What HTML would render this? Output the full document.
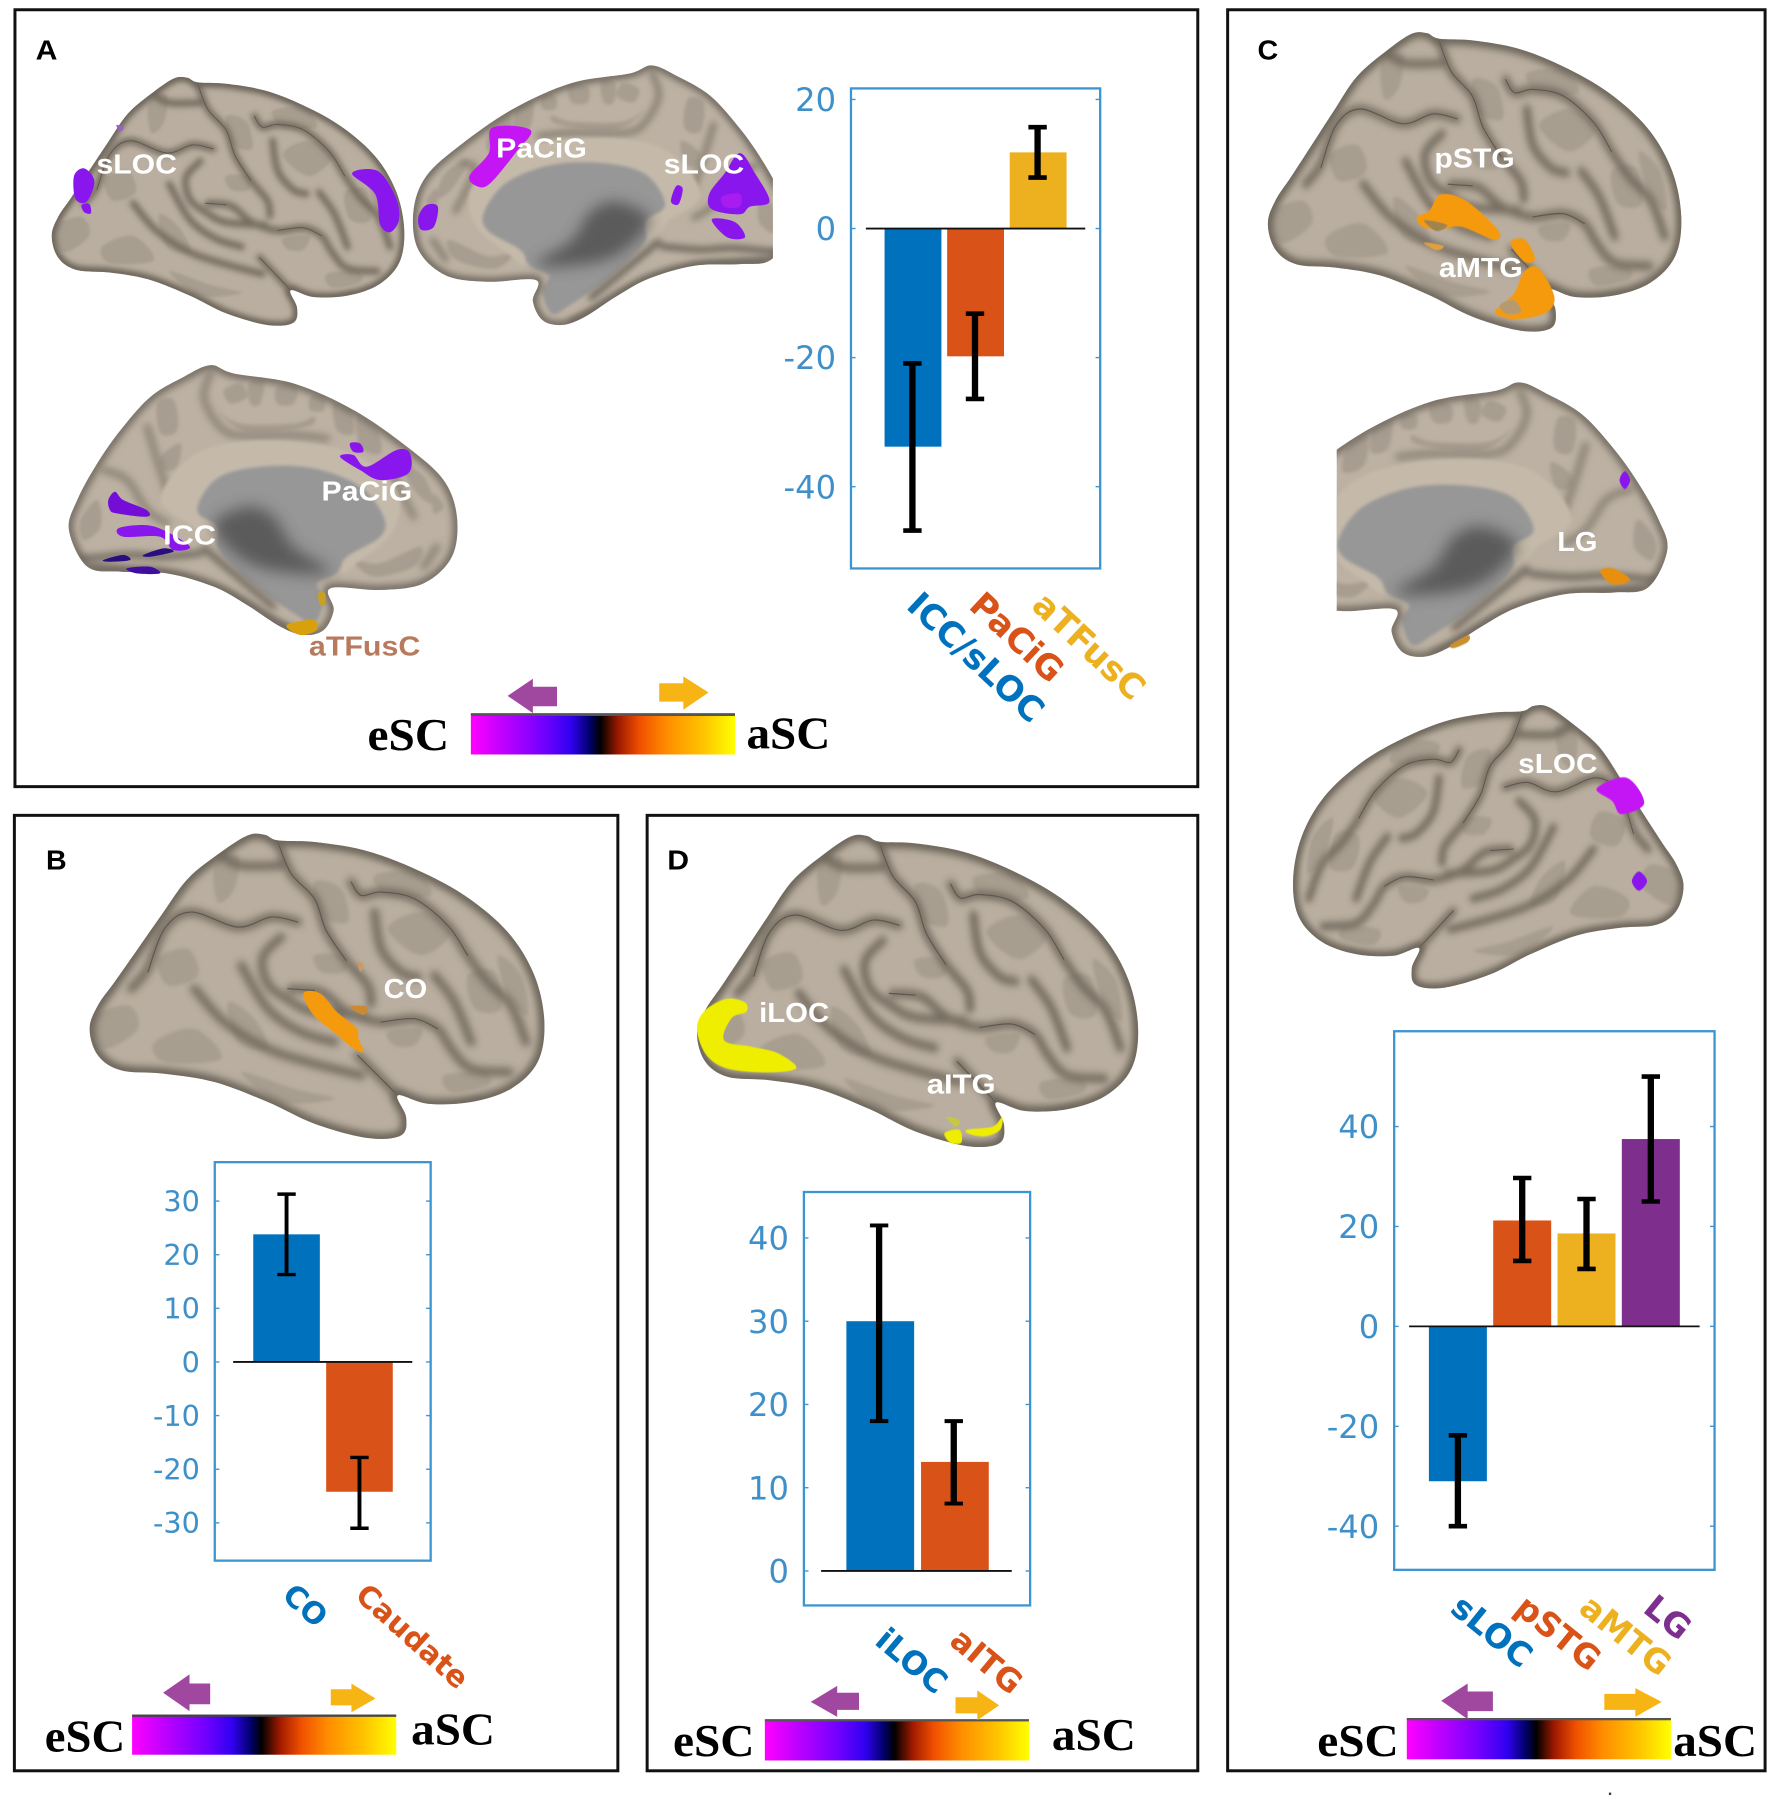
<!DOCTYPE html>
<html lang="en">
<head>
<meta charset="utf-8">
<title>Brain activation panels with bar charts</title>
<style>
html,body{margin:0;padding:0;background:#fff;}
svg{display:block;}
.rl{font-family:"Liberation Sans",sans-serif;font-weight:700;fill:#fff;font-size:24px;}
.pl{font-family:"Liberation Sans",sans-serif;font-weight:700;fill:#000;font-size:24px;}
.es{font-family:"Liberation Serif",serif;font-weight:700;fill:#000;font-size:40px;}
</style>
</head>
<body>
<svg id="fig" xmlns="http://www.w3.org/2000/svg" width="1772" height="1801" viewBox="0 0 1543 1568.3">
<defs>
<linearGradient id="cb" x1="0" x2="1" y1="0" y2="0">
<stop offset="0" stop-color="#ff00ff"/><stop offset=".12" stop-color="#c000ff"/><stop offset=".28" stop-color="#7000ff"/><stop offset=".38" stop-color="#3000f0"/><stop offset=".45" stop-color="#00006a"/><stop offset=".49" stop-color="#000"/><stop offset=".56" stop-color="#a01a00"/><stop offset=".64" stop-color="#f05000"/><stop offset=".74" stop-color="#ff8c00"/><stop offset=".88" stop-color="#ffc400"/><stop offset="1" stop-color="#ffff00"/>
</linearGradient>
<filter id="b5" x="-20%" y="-20%" width="140%" height="140%"><feGaussianBlur stdDeviation="5"/></filter>
<filter id="b9" x="-20%" y="-20%" width="140%" height="140%"><feGaussianBlur stdDeviation="11"/></filter>
<filter id="b1" x="-20%" y="-20%" width="140%" height="140%"><feGaussianBlur stdDeviation=".7"/></filter>
<filter id="b20" x="-30%" y="-30%" width="160%" height="160%"><feGaussianBlur stdDeviation="22"/></filter>
<clipPath id="clipA2" clipPathUnits="userSpaceOnUse"><rect x="340" y="40" width="333" height="260"/></clipPath>
<clipPath id="clipC2" clipPathUnits="userSpaceOnUse"><rect x="1164" y="320" width="320" height="270"/></clipPath>
</defs>

<rect width="1545" height="1571" fill="#fff"/>
<rect x="13" y="8.5" width="1030" height="676.5" fill="none" stroke="#111" stroke-width="2.6"/>
<rect x="12.5" y="710" width="525.5" height="832" fill="none" stroke="#111" stroke-width="2.6"/>
<rect x="563.5" y="710" width="479.5" height="832" fill="none" stroke="#111" stroke-width="2.6"/>
<rect x="1069" y="8.5" width="468" height="1533.5" fill="none" stroke="#111" stroke-width="2.6"/>

<g id="brains"></g>
<g id="charts"></g>

<text class="pl" x="31" y="52" textLength="19" lengthAdjust="spacingAndGlyphs">A</text>
<text class="pl" x="40" y="757" textLength="18" lengthAdjust="spacingAndGlyphs">B</text>
<text class="pl" x="581" y="757" textLength="19" lengthAdjust="spacingAndGlyphs">D</text>
<text class="pl" x="1095" y="52" textLength="18" lengthAdjust="spacingAndGlyphs">C</text>

<text class="rl" x="84" y="151" textLength="70" lengthAdjust="spacingAndGlyphs">sLOC</text>
<text class="rl" x="432" y="137" textLength="79" lengthAdjust="spacingAndGlyphs">PaCiG</text>
<text class="rl" x="578" y="151" textLength="70" lengthAdjust="spacingAndGlyphs">sLOC</text>
<text class="rl" x="280" y="436" textLength="79" lengthAdjust="spacingAndGlyphs">PaCiG</text>
<text class="rl" x="142" y="474" textLength="46" lengthAdjust="spacingAndGlyphs">ICC</text>
<text class="rl" x="269" y="571" textLength="97" lengthAdjust="spacingAndGlyphs" style="fill:#b87a5c">aTFusC</text>
<text class="rl" x="334" y="869" textLength="38" lengthAdjust="spacingAndGlyphs">CO</text>
<text class="rl" x="661" y="890" textLength="61" lengthAdjust="spacingAndGlyphs">iLOC</text>
<text class="rl" x="807" y="952" textLength="60" lengthAdjust="spacingAndGlyphs">aITG</text>
<text class="rl" x="1249" y="146" textLength="70" lengthAdjust="spacingAndGlyphs">pSTG</text>
<text class="rl" x="1253" y="241" textLength="73" lengthAdjust="spacingAndGlyphs">aMTG</text>
<text class="rl" x="1356" y="480" textLength="35" lengthAdjust="spacingAndGlyphs">LG</text>
<text class="rl" x="1322" y="673" textLength="69" lengthAdjust="spacingAndGlyphs">sLOC</text>

<!-- colour bars -->
<g>
<rect x="410" y="622" width="230" height="35" fill="url(#cb)"/>
<rect x="410" y="621" width="230" height="2.5" fill="#555"/>
<path d="M442 606 L464 591 V598 H485 V615 H464 V621 Z" fill="#a0479f"/>
<path d="M617 603 L595 589 V595 H574 V611 H595 V618 Z" fill="#f6b515"/>
<text class="es" x="320" y="653" textLength="71" lengthAdjust="spacingAndGlyphs">eSC</text>
<text class="es" x="650" y="652" textLength="73" lengthAdjust="spacingAndGlyphs">aSC</text>
</g>
<g>
<rect x="115" y="1494" width="230" height="34" fill="url(#cb)"/>
<rect x="115" y="1493" width="230" height="2" fill="#444"/>
<path d="M142 1474 L165 1458 V1466 H183 V1484 H165 V1490 Z" fill="#a0479f"/>
<path d="M327 1479 L306 1466 V1471 H288 V1485 H306 V1491 Z" fill="#f6b515"/>
<text class="es" x="39" y="1525" textLength="70" lengthAdjust="spacingAndGlyphs">eSC</text>
<text class="es" x="358" y="1519" textLength="73" lengthAdjust="spacingAndGlyphs">aSC</text>
</g>
<g>
<rect x="666" y="1498" width="230" height="35" fill="url(#cb)"/>
<rect x="666" y="1497" width="230" height="2" fill="#555"/>
<path d="M706 1482 L729 1468 V1474 H748 V1489 H729 V1495 Z" fill="#a0479f"/>
<path d="M870 1485 L851 1472 V1478 H832 V1492 H851 V1498 Z" fill="#f6b515"/>
<text class="es" x="586" y="1529" textLength="71" lengthAdjust="spacingAndGlyphs">eSC</text>
<text class="es" x="916" y="1524" textLength="73" lengthAdjust="spacingAndGlyphs">aSC</text>
</g>
<g>
<rect x="1225" y="1497" width="230" height="35" fill="url(#cb)"/>
<rect x="1225" y="1496" width="230" height="2" fill="#555"/>
<path d="M1255 1481 L1278 1466 V1473 H1300 V1490 H1278 V1497 Z" fill="#a0479f"/>
<path d="M1447 1482 L1424 1470 V1475 H1397 V1489 H1424 V1495 Z" fill="#f6b515"/>
<text class="es" x="1147" y="1529" textLength="71" lengthAdjust="spacingAndGlyphs">eSC</text>
<text class="es" x="1457" y="1529" textLength="73" lengthAdjust="spacingAndGlyphs">aSC</text>
</g>
<rect x="1401" y="1561" width="2" height="2" fill="#333"/>

<script>
// ---------- chart data ----------
const aCategories = ['ICC/sLOC', 'PaCiG', 'aTFusC'];
const aValues = [-33.8, -19.8, 11.8];
const aErrLow = [-46.8, -26.4, 7.9];
const aErrHigh = [-20.9, -13.2, 15.7];
const aTicks = [20, 0, -20, -40];

const bCategories = ['CO', 'Caudate'];
const bValues = [23.8, -24.2];
const bErrLow = [16.3, -31];
const bErrHigh = [31.3, -17.8];
const bTicks = [30, 20, 10, 0, -10, -20, -30];

const dCategories = ['iLOC', 'aITG'];
const dValues = [30, 13.1];
const dErrLow = [18, 8.1];
const dErrHigh = [41.5, 18];
const dTicks = [40, 30, 20, 10, 0];

const cCategories = ['sLOC', 'pSTG', 'aMTG', 'LG'];
const cValues = [-31, 21.2, 18.6, 37.5];
const cErrLow = [-40, 13.1, 11.5, 25];
const cErrHigh = [-21.8, 29.7, 25.5, 50];
const cTicks = [40, 20, 0, -20, -40];

const barColors = ['#0072bd', '#d95319', '#edb120', '#7e2f8e'];
const NS = 'http://www.w3.org/2000/svg';

function mk(parent, tag, attrs) {
  const el = document.createElementNS(NS, tag);
  for (const k in attrs) el.setAttribute(k, attrs[k]);
  parent.appendChild(el);
  return el;
}

function drawChart(id, cats, vals, lo, hi, ticks, L) {
  const root = document.getElementById('charts');
  const g = mk(root, 'g', {});
  
  
  const yScale = v => L.zero - v * L.k;
  const xScale = i => L.c0 + i * L.step;

  const frame = mk(g, 'rect', {x: L.x0, y: L.y0, width: L.x1 - L.x0, height: L.y1 - L.y0, fill: 'none', stroke: '#3b95d3', 'stroke-width': 2});
  
  

  ticks.forEach(t => {
    const y = yScale(t);
    const l1 = mk(g, 'line', {x1: L.x0, x2: L.x0 + 4, y1: y, y2: y, stroke: '#3b95d3', 'stroke-width': 1.2});
    
    
    const l2 = mk(g, 'line', {x1: L.x1 - 4, x2: L.x1, y1: y, y2: y, stroke: '#3b95d3', 'stroke-width': 1.2});
    
    
    const tx = mk(g, 'text', {x: L.x0 - 13, y: y + L.fs * .36, 'text-anchor': 'end', fill: '#3f90c8', 'font-family': '"DejaVu Sans",sans-serif', 'font-size': L.fs});
    
    
    tx.textContent = String(t);
  });

  vals.forEach((v, i) => {
    const cx = xScale(i);
    const top = Math.min(yScale(v), yScale(0));
    const r = mk(g, 'rect', {x: cx - L.w / 2, y: top, width: L.w, height: Math.abs(yScale(v) - yScale(0)), fill: barColors[i]});
    
    
  });

  const zero = mk(g, 'line', {x1: L.zx0, x2: L.zx1, y1: yScale(0), y2: yScale(0), stroke: '#111', 'stroke-width': 1.6});
  
  

  vals.forEach((v, i) => {
    const cx = xScale(i) + (L.eOff || 0);
    const eg = mk(g, 'g', {stroke: '#000', 'stroke-width': L.ew});
    
    
    mk(eg, 'line', {x1: cx, x2: cx, y1: yScale(hi[i]), y2: yScale(lo[i])});
    mk(eg, 'line', {x1: cx - 8, x2: cx + 8, y1: yScale(hi[i]), y2: yScale(hi[i]), 'stroke-width': L.ecap});
    mk(eg, 'line', {x1: cx - 8, x2: cx + 8, y1: yScale(lo[i]), y2: yScale(lo[i]), 'stroke-width': L.ecap});
  });

  cats.forEach((c, i) => {
    const lx = xScale(i) + L.lx;
    const ly = L.y1 + L.ly;
    const t = mk(g, 'text', {x: lx, y: ly, transform: 'rotate(' + L.rot + ' ' + lx + ' ' + ly + ')', fill: barColors[i], 'font-family': '"DejaVu Sans",sans-serif', 'font-weight': 700, 'font-size': L.lfs});
    
    
    t.textContent = c;
  });
}

drawChart('a', aCategories, aValues, aErrLow, aErrHigh, aTicks, {x0:741,x1:958,y0:77,y1:495,zero:199,k:5.62,c0:795,step:54.5,w:49.5,zx0:754,zx1:945,fs:28,ew:5.5,ecap:4,lx:-7,ly:34,rot:43,lfs:30,eOff:-.5});
drawChart('b', bCategories, bValues, bErrLow, bErrHigh, bTicks, {x0:187,x1:375,y0:1012,y1:1359,zero:1186,k:4.67,c0:249.5,step:63.5,w:58,zx0:203,zx1:359,fs:25,ew:3.4,ecap:3,lx:-5,ly:32,rot:42,lfs:26,eOff:0});
drawChart('d', dCategories, dValues, dErrLow, dErrHigh, dTicks, {x0:700,x1:897,y0:1038,y1:1398,zero:1368,k:7.25,c0:766.5,step:65,w:59,zx0:715,zx1:881,fs:28,ew:5.5,ecap:3.4,lx:-6,ly:33,rot:40,lfs:28,eOff:-1});
drawChart('c', cCategories, cValues, cErrLow, cErrHigh, cTicks, {x0:1214,x1:1493,y0:898,y1:1367,zero:1155,k:4.35,c0:1269.5,step:56,w:50.5,zx0:1227,zx1:1480,fs:28,ew:5.5,ecap:4,lx:-8,ly:36,rot:39,lfs:29,eOff:0});

// ---------- brain surfaces ----------
function smooth(s, closed) {
  const p = s.trim().split(/\s+/).map(q => q.split(',').map(Number));
  const n = p.length;
  const at = i => closed ? p[(i + n) % n] : p[Math.max(0, Math.min(n - 1, i))];
  let d = 'M' + p[0][0] + ' ' + p[0][1];
  const end = closed ? n : n - 1;
  for (let i = 0; i < end; i++) {
    const a = at(i - 1), b = at(i), c = at(i + 1), e = at(i + 2);
    d += 'C' + (b[0] + (c[0] - a[0]) / 6).toFixed(1) + ' ' + (b[1] + (c[1] - a[1]) / 6).toFixed(1) + ' ' +
         (c[0] - (e[0] - b[0]) / 6).toFixed(1) + ' ' + (c[1] - (e[1] - b[1]) / 6).toFixed(1) + ' ' + c[0] + ' ' + c[1];
  }
  return closed ? d + 'Z' : d;
}

const latOutline = '25,640 50,570 100,500 170,400 240,300 320,190 420,110 500,60 550,58 590,75 700,80 850,105 1000,160 1150,240 1280,350 1360,480 1390,620 1370,740 1290,820 1170,860 1040,865 950,840 975,905 960,960 860,968 700,925 560,860 400,800 250,775 120,765 50,720';
const latPatch = [
  '35,610 140,570 170,640 70,700',
  '220,680 340,640 420,730 250,740',
  '700,200 780,220 800,320 720,300',
  '880,180 1000,170 1050,240 920,240',
  '920,340 1020,290 1110,350 1020,420',
  '1160,480 1240,470 1260,580 1180,580',
  '920,650 1020,640 1000,690 940,690',
  '1090,780 1210,770 1220,810 1110,830',
  '480,770 640,820 760,850 600,860',
  '700,420 790,420 790,470 720,470',
  '400,150 470,120 460,220 410,260',
  '230,430 320,400 350,480 260,510',
  '440,560 520,610 560,700 470,680',
  '1250,420 1320,480 1340,600 1280,540',
  '1100,860 1180,840 1200,850 1120,862'
];
const latSoft = [
  '150,520 200,460 250,340 330,290 470,335 570,305 650,320',
  '590,80 630,175 700,250 735,345 795,435 860,510 870,565',
  '600,365 545,425 560,505 625,555 700,590 850,600',
  '340,520 430,620 560,700 700,745 840,780',
  '480,450 560,580 660,650 760,680',
  '630,520 720,530 800,590 900,620 1000,610 1070,640 1110,700 1170,760 1285,770',
  '810,200 840,240 900,230 1000,250 1100,330 1160,420 1220,500 1290,570 1335,680',
  '880,290 900,400 960,470 1010,485',
  '1060,480 1120,560 1170,680',
  '600,150 480,150 420,120',
  '830,720 880,770 950,840'
];
const latLine = [
  '200,470 250,340 330,290 470,335 570,305 650,320',
  '590,80 630,175 700,250 735,345 795,435',
  '810,200 840,240 900,230 1000,250 1100,330 1160,420',
  '830,720 880,770 950,840',
  '900,620 1000,610 1070,640',
  '620,520 700,525'
];
const medOutline = '25,510 50,420 110,310 180,210 270,110 370,50 450,15 520,40 700,70 880,150 1040,260 1150,360 1190,470 1175,590 1090,670 960,690 810,685 820,750 790,810 730,825 660,800 560,735 460,680 320,640 180,635 80,620';
const medLight = '300,420 380,300 500,250 700,245 900,290 1010,400 1000,510 900,600 800,640 470,560 400,500';
const medGray = '410,450 470,355 600,320 760,325 900,380 970,470 960,530 860,590 830,640 770,670 790,720 760,790 700,760 600,690 520,620 470,560 470,500';
const medShade = '460,490 560,440 640,470 700,560 810,635 700,640 590,620 510,570';
const medPatch = [
  '490,90 540,70 560,110 510,130', '565,70 610,60 600,130 570,130', '650,80 710,70 700,130 650,130',
  '750,110 790,110 790,150 750,150', '820,130 870,150 880,220 830,210', '890,170 950,210 960,280 900,260',
  '290,130 340,120 350,210 300,220', '470,150 540,190 700,190 760,170 740,200 560,215',
  '1020,310 1090,350 1120,430 1070,400', '300,290 360,250 350,320 310,330', '1120,400 1150,440 1120,460',
  '880,600 960,610 1080,560 1060,620 940,650', '60,480 110,420 120,500 70,540'
];
const medSoft = [
  '450,40 430,110 470,190 530,225 700,225 800,235',
  '260,200 290,300 330,420',
  '130,330 200,360 260,450 320,490',
  '1040,320 1000,340 1060,470',
  '1130,560 1090,620'
];
const medDeep = [
  '40,600 200,585 300,590 420,580',
  '100,625 300,642 480,695 620,775 700,815',
  '430,565 520,640 640,740'
];

function shapeLateral(parent, name) {
  const d = smooth(latOutline, true);
  const cid = 'lc' + name;
  const cp = mk(parent, 'clipPath', {id: cid, clipPathUnits: 'userSpaceOnUse'});
  mk(cp, 'path', {d: d});
  mk(parent, 'path', {d: d, fill: '#b9ae9f'});
  const g = mk(parent, 'g', {'clip-path': 'url(#' + cid + ')'});
  const pg = mk(g, 'g', {filter: 'url(#b5)', fill: '#a89e90'});
  latPatch.forEach(s => mk(pg, 'path', {d: smooth(s, true)}));
  const sg = mk(g, 'g', {filter: 'url(#b9)', fill: 'none', stroke: '#6f675c', 'stroke-width': 26, 'stroke-linecap': 'round', opacity: .9});
  latSoft.forEach(s => mk(sg, 'path', {d: smooth(s, false)}));
  const tg = mk(g, 'g', {fill: 'none', stroke: '#5f574e', 'stroke-width': 3.5, 'stroke-linecap': 'round'});
  latLine.forEach(s => mk(tg, 'path', {d: smooth(s, false)}));
  mk(g, 'path', {d: d, fill: 'none', stroke: '#6a6359', 'stroke-width': 34, filter: 'url(#b9)'});
}

function shapeMedial(parent, name) {
  const d = smooth(medOutline, true);
  const cid = 'mc' + name;
  const cp = mk(parent, 'clipPath', {id: cid, clipPathUnits: 'userSpaceOnUse'});
  mk(cp, 'path', {d: d});
  mk(parent, 'path', {d: d, fill: '#bcb1a2'});
  const g = mk(parent, 'g', {'clip-path': 'url(#' + cid + ')'});
  const pg = mk(g, 'g', {filter: 'url(#b5)', fill: '#a79d90'});
  medPatch.forEach(s => mk(pg, 'path', {d: smooth(s, true)}));
  const sg = mk(g, 'g', {filter: 'url(#b9)', fill: 'none', stroke: '#8a8175', 'stroke-width': 20, 'stroke-linecap': 'round'});
  medSoft.forEach(s => mk(sg, 'path', {d: smooth(s, false)}));
  mk(g, 'path', {d: smooth(medLight, true), fill: '#c5baaa', filter: 'url(#b5)'});
  mk(g, 'path', {d: smooth(medGray, true), fill: '#979797', filter: 'url(#b5)'});
  mk(g, 'path', {d: smooth(medShade, true), fill: '#555', filter: 'url(#b20)', opacity: .9});
  const dg = mk(g, 'g', {filter: 'url(#b9)', fill: 'none', stroke: '#5e5850', 'stroke-width': 16, 'stroke-linecap': 'round'});
  medDeep.forEach(s => mk(dg, 'path', {d: smooth(s, false)}));
  mk(g, 'path', {d: d, fill: 'none', stroke: '#6f685e', 'stroke-width': 26, filter: 'url(#b9)'});
}

function placeLateral(name, x0, x1, y0, y1, flip) {
  const root = document.getElementById('brains');
  const sx = (x1 - x0) / 1365, sy = (y1 - y0) / 913;
  const tf = flip ? 'translate(' + (x1 + 25 * sx) + ' ' + (y0 - 55 * sy) + ') scale(' + (-sx) + ' ' + sy + ')'
                  : 'translate(' + (x0 - 25 * sx) + ' ' + (y0 - 55 * sy) + ') scale(' + sx + ' ' + sy + ')';
  const g = mk(root, 'g', {transform: tf});
  
  
  shapeLateral(g, name);
}

function placeMedial(name, x0, sx, y0, sy, flip, clip) {
  const root = document.getElementById('brains');
  const outer = mk(root, 'g', clip ? {'clip-path': 'url(#' + clip + ')'} : {});
  const tf = flip ? 'translate(' + (x0 + 1190 * sx) + ' ' + (y0 - 15 * sy) + ') scale(' + (-sx) + ' ' + sy + ')'
                  : 'translate(' + (x0 - 25 * sx) + ' ' + (y0 - 15 * sy) + ') scale(' + sx + ' ' + sy + ')';
  const g = mk(outer, 'g', {transform: tf});
  
  
  shapeMedial(g, name);
}

placeLateral('a1', 45, 352, 67, 283, false);
placeMedial('a2', 360, .281, 57, .279, true, 'clipA2');
placeMedial('a3', 60, .29, 318, .29, false, null);
placeLateral('b', 78, 474, 726, 991, false);
placeLateral('d', 607, 991, 727, 998, false);
placeLateral('c1', 1104, 1464, 28, 288, false);
placeMedial('c2', 1100, .302, 333, .295, true, 'clipC2');
placeLateral('c3', 1126, 1466, 614, 860, true);

// activation blobs, each traced in its own crop space
function blobs(tf, list, name) {
  const root = document.getElementById('brains');
  const g = mk(root, 'g', {transform: tf, filter: 'url(#b1)'});
  
  
  list.forEach(b => mk(g, 'path', {d: smooth(b[0], true), fill: b[1]}));
}
const P = '#8a14ee', M = '#c414f4', O = '#f59a0a', Y = '#efee05', G = '#f2b40a';

blobs('scale(.4443)', [
  ['145,345 165,330 185,355 170,395 148,390', P], ['160,402 175,400 178,418 165,416', P],
  ['690,340 740,335 775,385 782,430 765,455 745,440 735,380', P], ['228,245 242,250 235,258', '#9a60c8'],
  ['920,345 958,300 965,250 1040,255 1010,300 960,360 935,365', M], ['820,425 835,402 858,405 850,445 825,450', P],
  ['1390,380 1420,340 1450,300 1480,340 1508,395 1470,405 1450,420 1395,410', P], ['1315,395 1325,365 1338,370 1330,400', P],
  ['1395,430 1440,435 1460,465 1425,465', P], ['1415,385 1450,380 1450,405 1420,405', '#a81cf0']
], 'activation-panel-a-upper');

blobs('translate(52.2 313.5) scale(.2903)', [
  ['840,290 880,285 920,320 1010,270 1050,280 1045,340 960,360 900,330', P],
  ['870,250 900,250 910,275 880,275', P],
  ['145,420 165,395 190,420 260,450 260,470 170,460 150,450', '#7510d8'],
  ['175,505 250,495 310,510 390,560 340,570 300,530 190,530', P],
  ['130,600 190,585 210,600 150,605', '#2a0a80'],
  ['250,585 310,565 340,575 270,590', '#2a0a80'],
  ['200,625 270,620 300,640 230,640', '#4010a0'],
  ['680,795 760,780 770,810 720,825', '#d8a010'],
  ['775,700 795,700 795,730 780,735', '#c8a020']
], 'activation-panel-a-lower');

blobs('translate(69.66 709.7) scale(.2903)', [
  ['670,535 720,535 770,590 830,640 835,670 850,710 820,700 760,650 700,600', O],
  ['835,440 850,450 840,470', '#cf9a60'], ['810,575 860,575 850,600', '#c98a30']
], 'activation-panel-b');

blobs('translate(558 697.5) scale(.3226 .556)', [
  ['152,360 170,330 230,310 280,315 285,330 245,340 225,375 300,385 370,395 420,418 350,425 240,420 180,400', Y],
  ['820,520 860,515 865,535 835,535', Y], ['880,515 950,510 975,495 970,515 930,525 890,522', Y], ['825,495 860,500 850,510', '#c8c840']
], 'activation-panel-d');

blobs('translate(1063.7 0) scale(.3067 .556)', [
  ['555,340 590,330 620,305 680,310 740,335 790,365 770,375 680,355 620,360 570,355', O],
  ['575,345 640,352 610,362', '#a08450'],
  ['575,380 630,385 610,392', '#e0a040'], ['820,380 860,375 890,405 860,410', O],
  ['780,485 830,460 860,425 900,420 945,465 920,490 840,500 790,495', O],
  ['790,478 830,470 850,488 810,492', '#b59a70'],
  ['1130,752 1145,738 1160,752 1145,766', P], ['1075,895 1110,890 1160,908 1110,915', '#e89010'],
  ['650,1010 700,995 700,1005 660,1015', '#c89030'],
  ['1065,1235 1150,1218 1200,1258 1135,1275 1110,1255', M], ['1165,1380 1185,1365 1208,1380 1185,1395', P]
], 'activation-panel-c');
</script>
</svg>
</body>
</html>
